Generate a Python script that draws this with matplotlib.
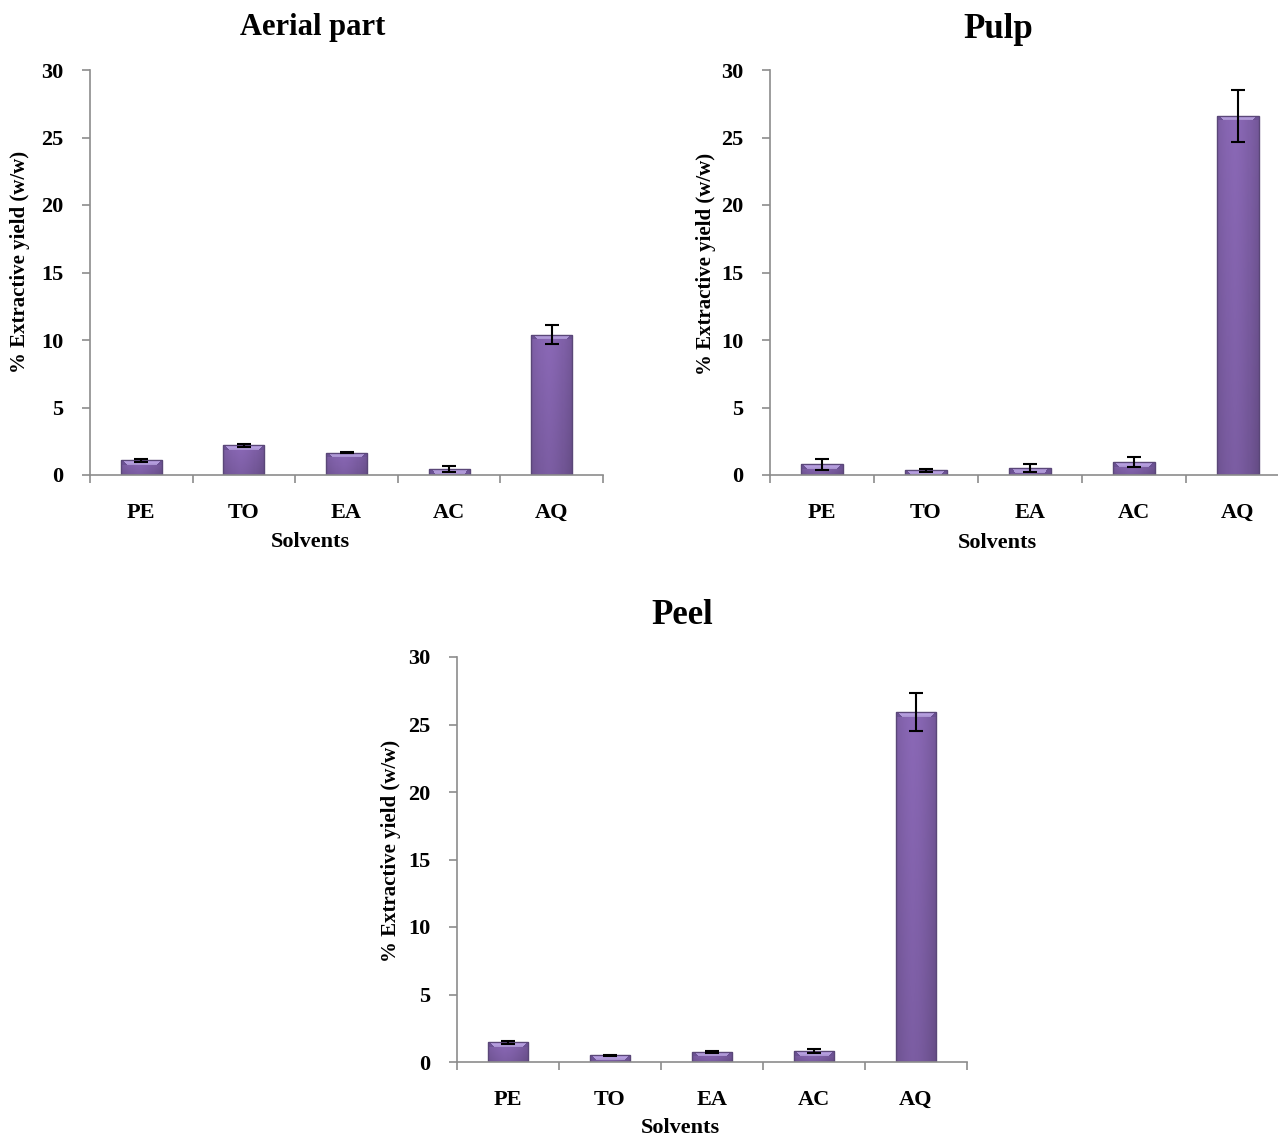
import matplotlib
matplotlib.use("Agg")
import matplotlib.pyplot as plt
import matplotlib.colors as mcolors
import numpy as np

plt.rcParams['font.family'] = ['Liberation Serif', 'DejaVu Serif']
plt.rcParams['font.weight'] = 'bold'

SOLVENTS = ["PE", "TO", "EA", "AC", "AQ"]

AERIAL = [1.1, 2.2, 1.65, 0.45, 10.4]
AERIAL_ERR = [0.1, 0.1, 0.05, 0.2, 0.7]

PULP = [0.8, 0.35, 0.55, 0.95, 26.6]
PULP_ERR = [0.4, 0.1, 0.3, 0.35, 1.9]

PEEL = [1.45, 0.5, 0.75, 0.8, 25.9]
PEEL_ERR = [0.1, 0.05, 0.1, 0.15, 1.4]

W, H = 1278, 1141
BAR_COLOR = '#8064a2'
EDGE_COLOR = '#5a4778'
SPINE_COLOR = '#8c8c8c'
PX_PER_UNIT = 405 / 30


def px(x0, y_top, x1, y_bot):
    '''axes rectangle in figure fraction from pixel corners'''
    return [x0 / W, 1 - y_bot / H, (x1 - x0) / W, (y_bot - y_top) / H]


def shade_bar(ax, rect):
    '''excel-like bevel: horizontal shading plus a light band on top'''
    x0, w, h = rect.get_x(), rect.get_width(), rect.get_height()
    nrows = max(int(round(h * PX_PER_UNIT)), 2)
    ncols = 40
    base = np.array(mcolors.to_rgb('#7e5fa6'))
    light = np.array(mcolors.to_rgb('#c2a9ee'))
    dark = np.array(mcolors.to_rgb('#6c5294'))
    xs = np.linspace(0, 1, ncols)
    # brighter towards the left-center, darker at the edges
    prof = 1 - 1.6 * np.abs(xs - 0.42) ** 1.5
    img = np.zeros((nrows, ncols, 3))
    for i in range(nrows):
        t = i / max(nrows - 1, 1)
        img[i] = base[None, :] * (prof[:, None] * 0.25 + 0.85 - 0.12 * t)
    # top bevel band ~5 px
    band = min(5, nrows)
    for i in range(band):
        inner = (xs > 0.05 + 0.025 * i) & (xs < 0.95 - 0.025 * i)
        img[i, inner] = light * (1.0 - 0.03 * i)
        img[i, ~inner] = dark
    img = np.clip(img, 0, 1)
    im = ax.imshow(img, extent=(x0, x0 + w, 0, h), aspect='auto',
                   origin='upper', zorder=2, interpolation='nearest')
    im.set_clip_path(rect)


def panel(fig, rect, vals, errs, title, title_xy, ylab_xy, xlab_xy):
    ax = fig.add_axes(rect)
    x = np.arange(len(SOLVENTS))
    bars = ax.bar(x, vals, width=0.4, color=BAR_COLOR, edgecolor=EDGE_COLOR,
                  linewidth=1.0, zorder=2)
    for b in bars:
        shade_bar(ax, b)
        b.set_facecolor('none')
        b.set_zorder(2.5)
    ax.errorbar(x, vals, yerr=errs, fmt='none', ecolor='black',
                elinewidth=1.5, capsize=5, capthick=1.5, zorder=3)
    ax.set_xlim(-0.5, len(SOLVENTS) - 0.5)
    ax.set_ylim(0, 30)
    ax.set_yticks(range(0, 31, 5))
    ax.set_xticks(x)
    ax.set_xticklabels(SOLVENTS)
    ax.set_xticks(np.arange(-0.5, len(SOLVENTS)), minor=True)
    ax.tick_params(axis='x', which='major', length=0, pad=20, labelsize=16)
    ax.tick_params(axis='x', which='minor', length=6, direction='out',
                   color=SPINE_COLOR, width=1.2)
    ax.tick_params(axis='y', length=6, direction='out', color=SPINE_COLOR,
                   width=1.2, pad=13, labelsize=16)
    for s in ['top', 'right']:
        ax.spines[s].set_visible(False)
    for s in ['left', 'bottom']:
        ax.spines[s].set_color(SPINE_COLOR)
        ax.spines[s].set_linewidth(1.2)
    for lab in ax.get_xticklabels() + ax.get_yticklabels():
        lab.set_fontweight('bold')

    fig.text(title_xy[0] / W, 1 - title_xy[1] / H, title, ha='center',
             va='center', fontsize=title_xy[2], fontweight='bold')
    fig.text(ylab_xy[0] / W, 1 - ylab_xy[1] / H, '% Extractive yield (w/w)',
             rotation=90, ha='center', va='center', fontsize=15,
             fontweight='bold')
    fig.text(xlab_xy[0] / W, 1 - xlab_xy[1] / H, 'Solvents', ha='center',
             va='center', fontsize=16, fontweight='bold')
    return ax


fig = plt.figure(figsize=(W / 100, H / 100), dpi=100)

panel(fig, px(90, 70, 603, 475), AERIAL, AERIAL_ERR, 'Aerial part',
      (313, 28, 22), (20, 262), (310, 542))
panel(fig, px(770, 70, 1290, 475), PULP, PULP_ERR, 'Pulp',
      (998, 30, 25), (706, 264), (997, 543))
panel(fig, px(457, 657, 967, 1062), PEEL, PEEL_ERR, 'Peel',
      (682, 616, 25), (391, 851), (680, 1128))

fig.savefig('out.png', dpi=100)
